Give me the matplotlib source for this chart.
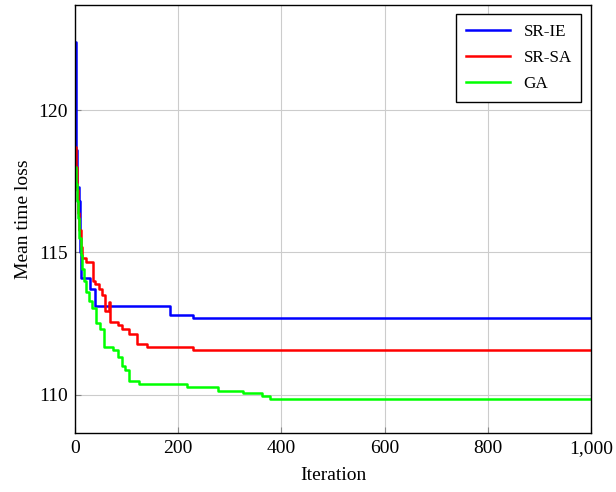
import matplotlib
matplotlib.use("Agg")
import matplotlib.pyplot as plt
from matplotlib.ticker import FuncFormatter

# step breakpoints (iteration, mean time loss)
sr_ie_iter = [0, 1, 2, 4, 7, 9, 10, 12, 29, 38, 183, 229, 1000]
sr_ie_val = [122.4, 119.5, 118.6, 117.3, 116.8, 116.0, 115.0, 114.1, 113.7, 113.1, 112.8, 112.7, 112.7]

sr_sa_iter = [0, 2, 3, 5, 8, 11, 14, 21, 35, 38, 47, 52, 58, 66, 68, 84, 91, 104, 120, 140, 229, 1000]
sr_sa_val = [118.7, 118.0, 117.2, 116.4, 115.8, 115.2, 114.8, 114.65, 114.0, 113.9, 113.7, 113.5,
             112.95, 113.25, 112.55, 112.43, 112.31, 112.14, 111.78, 111.67, 111.55, 111.55]

ga_iter = [0, 1, 3, 6, 8, 11, 14, 18, 22, 26, 32, 40, 48, 55, 74, 84, 90, 97, 104, 123,
           217, 278, 326, 362, 378, 1000]
ga_val = [118.0, 117.4, 116.8, 116.2, 115.5, 114.9, 114.4, 114.0, 113.6, 113.3, 113.05, 112.5,
          112.31, 111.67, 111.55, 111.31, 111.02, 110.85, 110.49, 110.38, 110.26, 110.14,
          110.07, 109.96, 109.85, 109.85]

x_ticks = [0, 200, 400, 600, 800, 1000]
y_ticks = [110, 115, 120]

plt.rcParams['font.family'] = ['Liberation Serif', 'DejaVu Serif']

fig = plt.figure(figsize=(6.16, 4.92), dpi=100)
ax = fig.add_axes([0.122, 0.12, 0.837, 0.87])

ax.plot(sr_ie_iter, sr_ie_val, drawstyle='steps-post', color=(0, 0, 1), lw=1.8, label='SR-IE')
ax.plot(sr_sa_iter, sr_sa_val, drawstyle='steps-post', color=(1, 0, 0), lw=1.8, label='SR-SA')
ax.plot(ga_iter, ga_val, drawstyle='steps-post', color=(0, 1, 0), lw=1.8, label='GA')

ax.set_xlim(0, 1000)
ax.set_ylim(108.65, 123.7)
ax.set_xticks(x_ticks)
ax.set_yticks(y_ticks)
ax.xaxis.set_major_formatter(FuncFormatter(lambda v, p: f"{int(v):,}"))
ax.grid(True, color='#cccccc', lw=0.8)
ax.set_axisbelow(True)
ax.tick_params(direction='in', length=4, color='#888888', labelsize=14, pad=5)
for s in ax.spines.values():
    s.set_linewidth(1.0)

ax.set_xlabel('Iteration', fontsize=14, labelpad=7)
ax.set_ylabel('Mean time loss', fontsize=14, labelpad=5)

leg = ax.legend(loc='upper right', fontsize=12.3, fancybox=False, framealpha=1,
                edgecolor='black', borderaxespad=0.55, handlelength=2.6, labelspacing=0.6,
                borderpad=0.55)
leg.get_frame().set_linewidth(1.0)

plt.savefig('out.png', dpi=100)
